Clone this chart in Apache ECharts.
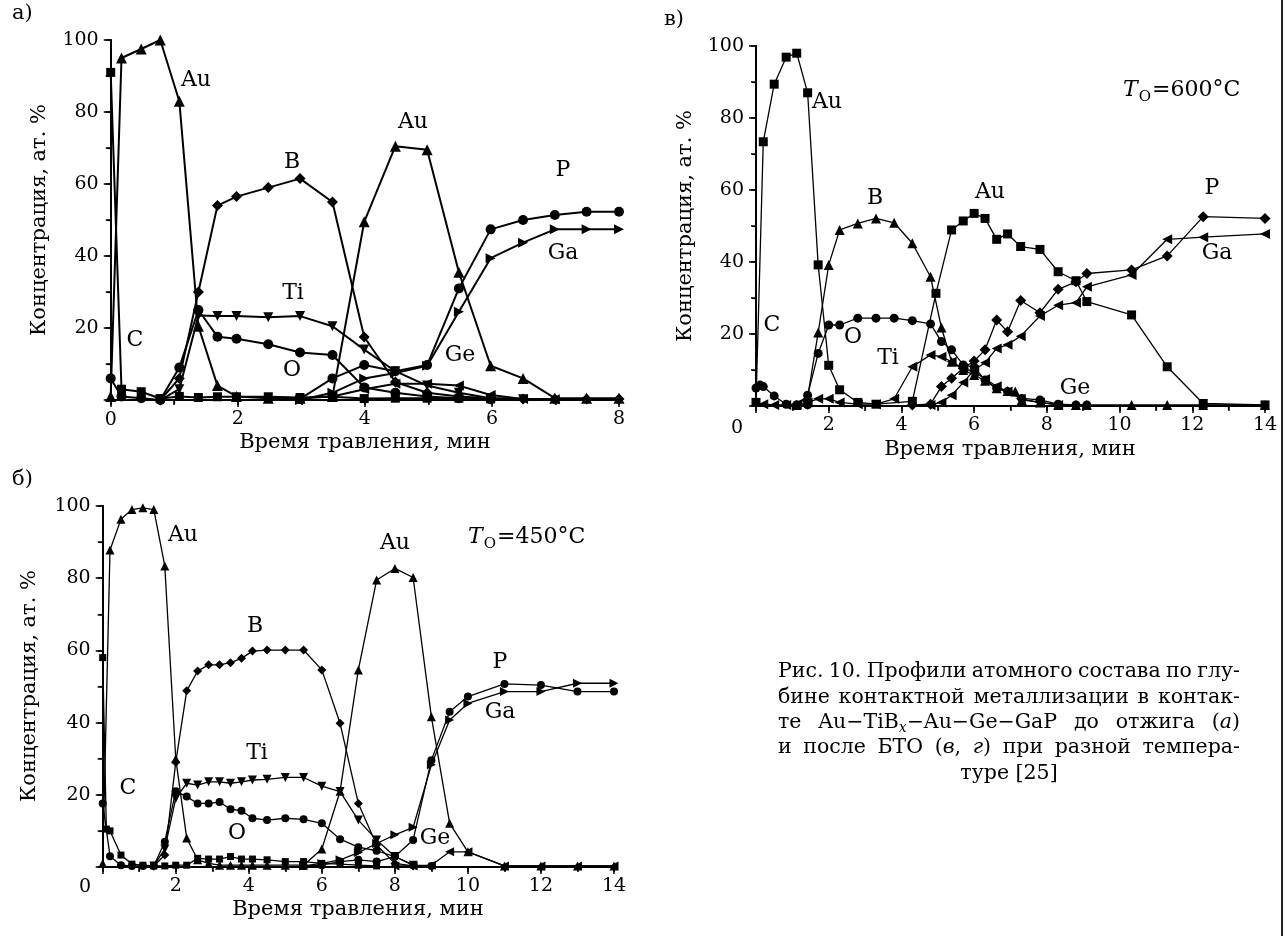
<!DOCTYPE html>
<html>
<head>
<meta charset="utf-8">
<script src="https://cdn.jsdelivr.net/npm/echarts@6.0.0/dist/echarts.min.js"></script>
<style>
html,body{margin:0;padding:0;background:#fff}
#chart{width:1287px;height:936px}
</style>
</head>
<body>
<div id="chart"></div>
<script>
// ---------- data: [time, concentration] ----------
// panel а) — before annealing
const aAu = [[0,1],[0.17,95],[0.48,97.5],[0.78,100],[1.08,83],[1.38,20.5],[1.68,4],[1.98,1],[2.48,0.5],[2.98,0.5],[3.49,1],[3.99,49.5],[4.48,70.5],[4.98,69.5],[5.48,35.5],[5.98,9.5],[6.49,6],[6.99,0.5],[7.49,0.5],[8,0.5]];
const aB  = [[0.78,0],[1.08,6],[1.38,30],[1.68,54],[1.98,56.5],[2.48,59],[2.98,61.5],[3.49,55],[3.99,17.5],[4.48,5],[4.98,2],[5.48,1],[5.98,0.5],[6.49,0.3],[6.99,0.3],[7.49,0.3],[8,0.3]];
const aTi = [[0.78,0],[1.08,3],[1.38,23.5],[1.68,23.3],[1.98,23.3],[2.48,23],[2.98,23.3],[3.49,20.5],[3.99,14],[4.48,8],[4.98,4],[5.48,2],[5.98,0.5],[6.49,0.2]];
const aO  = [[0,6],[0.17,1],[0.48,0.5],[0.78,0],[1.08,9],[1.38,25],[1.68,17.6],[1.98,17],[2.48,15.5],[2.98,13.2],[3.49,12.5],[3.99,3.5],[4.48,2],[4.98,1],[5.48,0.5],[5.98,0.2]];
const aC  = [[0,91],[0.17,3],[0.48,2.3],[0.78,0.4],[1.08,1],[1.38,0.7],[1.68,0.9],[1.98,0.9],[2.48,0.9],[2.98,0.7],[3.49,0.9],[3.99,0.4],[4.48,0.5],[4.98,0.5],[5.48,0.5],[5.98,0.3]];
const aP  = [[2.98,0.3],[3.49,6],[3.99,9.7],[4.48,8],[4.98,9.7],[5.48,31],[5.98,47.4],[6.49,50],[6.99,51.4],[7.49,52.3],[8,52.3]];
const aGa = [[2.98,0],[3.49,2],[3.99,6],[4.48,7.5],[4.98,9.5],[5.48,24.5],[5.98,39.4],[6.49,43.7],[6.99,47.4],[7.49,47.4],[8,47.4]];
const aGe = [[3.49,1],[3.99,3],[4.48,4.5],[4.98,4.5],[5.48,4],[5.98,1.4],[6.49,0.3],[6.99,0.2]];

// panel в) — T = 600 °C
const vAu = [[0,1],[0.2,73.4],[0.5,89.4],[0.83,96.9],[1.12,98],[1.42,87],[1.71,39.2],[2.0,11.3],[2.3,4.5],[2.8,1],[3.3,0.5],[4.3,1.3],[4.95,31.3],[5.38,48.9],[5.7,51.4],[6.0,53.5],[6.3,52.1],[6.62,46.3],[6.92,47.8],[7.28,44.3],[7.81,43.5],[8.31,37.3],[8.8,34.8],[9.1,29],[10.33,25.3],[11.31,10.9],[12.3,0.7],[14,0.3]];
const vB  = [[1.12,0.3],[1.42,2.5],[1.71,20.4],[2.0,39.2],[2.3,48.9],[2.8,50.7],[3.3,52.1],[3.8,50.9],[4.3,45.2],[4.8,35.9],[5.1,21.8],[5.38,12.3],[5.7,10],[6.0,8.6],[6.3,7],[6.62,4.9],[6.92,4.2],[7.13,4],[7.31,1.7],[7.81,1],[8.31,0.3],[8.8,0.3],[9.1,0.3],[10.33,0.3],[11.31,0.3],[12.3,0.3],[14,0.3]];
const vO  = [[1.12,0.3],[1.42,3],[1.71,14.6],[2.0,22.5],[2.3,22.5],[2.8,24.4],[3.3,24.4],[3.8,24.4],[4.3,23.7],[4.8,22.8],[5.1,17.9],[5.38,15.6],[5.7,11.4],[6.0,10.8],[6.3,7.2],[6.62,4.9],[6.92,4],[7.31,2.1],[7.81,1.7],[8.31,0.5],[8.8,0.3],[9.1,0.3]];
const vC  = [[0,5],[0.11,5.8],[0.2,5.4],[0.5,2.8],[0.83,0.5],[1.12,0.3],[1.42,0.3]];
const vTi = [[0.2,0.5],[0.5,0.3],[0.83,0.3],[1.12,0.5],[1.42,1],[1.71,2],[2.0,2],[2.3,1],[2.8,0.5],[3.3,0.5],[3.8,2],[4.3,10.9],[4.8,14.2],[5.1,13.7],[5.38,12.3],[5.7,10.5],[6.0,9.5],[6.3,7.5],[6.62,5.5],[6.92,4],[7.28,2],[7.81,1],[8.31,0.3]];
const vP  = [[4.3,0.3],[4.8,0.5],[5.1,5.4],[5.38,7.7],[5.7,10.5],[6.0,12.5],[6.3,15.6],[6.62,23.9],[6.92,20.6],[7.28,29.3],[7.81,25.9],[8.31,32.4],[8.8,34.5],[9.1,36.8],[10.33,37.8],[11.31,41.7],[12.3,52.6],[14,52.1]];
const vGa = [[4.8,0.3],[5.1,1],[5.38,3],[5.7,6.5],[6.0,10],[6.3,12],[6.62,16],[6.92,17],[7.28,19.4],[7.81,25],[8.31,28],[8.8,28.7],[9.1,33.1],[10.33,36.4],[11.31,46.3],[12.3,46.9],[14,47.8]];

// panel б) — T = 450 °C
const bAu = [[0,1],[0.2,87.8],[0.5,96.3],[0.8,99],[1.1,99.5],[1.4,99],[1.7,83.4],[2.0,30],[2.3,8],[2.6,2],[2.9,1],[3.2,0.5],[3.5,0.5],[3.8,0.5],[4.1,0.5],[4.5,0.5],[5.0,0.5],[5.5,0.5],[6.0,5],[6.5,21],[7.0,54.6],[7.5,79.5],[8.0,82.7],[8.5,80.2],[9.0,41.6],[9.5,12.1],[10.0,4.2],[11,0.3],[12,0.3],[13,0.3],[14,0.3]];
const bB  = [[1.4,0.3],[1.7,3.3],[2.0,29],[2.3,48.8],[2.6,54.3],[2.9,56],[3.2,56],[3.5,56.6],[3.8,57.8],[4.1,59.8],[4.5,60.1],[5.0,60.1],[5.5,60.1],[6.0,54.6],[6.5,39.8],[7.0,17.6],[7.5,6.1],[8.0,1],[8.5,0.3]];
const bTi = [[1.4,0.3],[1.7,5],[2.0,19],[2.3,23.2],[2.6,22.7],[2.9,23.6],[3.2,23.6],[3.5,23.2],[3.8,23.6],[4.1,24.1],[4.5,24.3],[5.0,24.8],[5.5,24.8],[6.0,22.4],[6.5,20.9],[7.0,13],[7.5,7.5],[8.0,2.9],[8.5,0.5]];
const bO  = [[0,17.6],[0.2,3],[0.5,0.5],[0.8,0.3],[1.1,0.3],[1.4,0.3],[1.7,7],[2.0,21],[2.3,19.5],[2.6,17.6],[2.9,17.6],[3.2,18],[3.5,16],[3.8,15.6],[4.1,13.5],[4.5,13],[5.0,13.5],[5.5,13.2],[6.0,12.1],[6.5,7.7],[7.0,5.5],[7.5,4.5],[8.0,2.9],[8.5,0.5],[9.0,0.3]];
const bC  = [[0,58],[0.1,10.5],[0.2,10],[0.5,3.3],[0.8,0.8],[1.1,0.5],[1.4,0.3],[1.7,0.3],[2.0,0.5],[2.3,0.5],[2.6,2.4],[2.9,2.2],[3.2,2.2],[3.5,2.9],[3.8,2.2],[4.1,2.2],[4.5,2],[5.0,1.5],[5.5,1.5],[6.0,1],[6.5,0.8],[7.0,0.5],[7.5,0.3]];
const bP  = [[5.5,0.3],[6.0,0.5],[6.5,1.5],[7.0,2],[7.5,1.5],[8.0,2.9],[8.5,7.5],[9.0,29.6],[9.5,43],[10.0,47.2],[11,50.7],[12,50.4],[13,48.6],[14,48.6]];
const bGa = [[5.5,0.3],[6.0,1],[6.5,2],[7.0,4],[7.5,6.5],[8.0,8.9],[8.5,11],[9.0,28.3],[9.5,40.7],[10.0,45.3],[11,48.6],[12,48.6],[13,50.9],[14,50.9]];
const bGe = [[8.0,0.3],[8.5,0.3],[9.0,0.5],[9.5,4.2],[10.0,4.2],[11,0.3],[12,0.3],[13,0.3],[14,0.3]];

// axis ranges and tick labels
const xMaxA = 8, xMaxV = 14, xMaxB = 14;
const yTicks = [0, 20, 40, 60, 80, 100];

// text
const xTitle = 'Время травления, мин';
const yTitle = 'Концентрация, ат. %';
const captionLines = [
  'Рис. 10. Профили атомного состава по глу-',
  'бине контактной металлизации в контак-',
  'те Au−TiB_{x}−Au−Ge−GaP до отжига (*а*)',
  'и после БТО (*в*, *г*)  при разной темпера-',
  'туре [25]'
];

// ---------- layout ----------
const SERIF = "'DejaVu Serif', 'Liberation Serif', serif";
const TICK = 19, TITLE = 21, LBL = 22;
const grids = [
  { left: 110.7, top: 40, width: 508.3, height: 360 },   // а
  { left: 756,   top: 46, width: 509,   height: 360 },   // в
  { left: 102.7, top: 506, width: 511.3, height: 361 }   // б
];
const xMax = [xMaxA, xMaxV, xMaxB];

const chart = echarts.init(document.getElementById('chart'), null, { renderer: 'canvas', width: 1287, height: 936 });

const xAxes = [], yAxes = [];
grids.forEach((g, i) => {
  xAxes.push({
    type: 'value', gridIndex: i, position: 'bottom', min: 0, max: xMax[i], interval: 2,
    axisLine: { lineStyle: { color: '#000', width: 1.8 } },
    axisTick: { inside: false, length: 7, lineStyle: { color: '#000', width: 1.5 } },
    minorTick: { show: true, splitNumber: 2, length: 4, lineStyle: { color: '#000', width: 1.2 } },
    splitLine: { show: false },
    axisLabel: { margin: 10, color: '#000', fontFamily: SERIF, fontSize: TICK, formatter: v => (v === 0 ? '' : String(v)) }
  });
  xAxes.push({
    type: 'value', gridIndex: i, position: 'top', min: 0, max: xMax[i], interval: 1,
    axisLine: { lineStyle: { color: '#000', width: 1.8 } },
    axisTick: { inside: true, length: 5, lineStyle: { color: '#000', width: 1.5 } },
    splitLine: { show: false }, axisLabel: { show: false }
  });
  yAxes.push({
    type: 'value', gridIndex: i, position: 'left', min: yTicks[0], max: yTicks[yTicks.length - 1], interval: 20,
    axisLine: { lineStyle: { color: '#000', width: 1.8 } },
    axisTick: { inside: false, length: 7, lineStyle: { color: '#000', width: 1.5 } },
    minorTick: { show: true, splitNumber: 2, length: 4, lineStyle: { color: '#000', width: 1.2 } },
    splitLine: { show: false },
    axisLabel: { margin: 12, color: '#000', fontFamily: SERIF, fontSize: TICK, formatter: v => (v === 0 ? '' : String(v)) }
  });
  yAxes.push({
    type: 'value', gridIndex: i, position: 'right', min: 0, max: 100, interval: 10,
    axisLine: { lineStyle: { color: '#000', width: 1.8 } },
    axisTick: { inside: true, length: 5, lineStyle: { color: '#000', width: 1.5 } },
    splitLine: { show: false }, axisLabel: { show: false }
  });
});

// marker shapes
const UP = ['triangle', 0], DOWN = ['triangle', 180], RIGHT = ['triangle', -90], LEFT = ['triangle', 90];
const DIA = ['diamond', 0], SQ = ['rect', 0], CIR = ['circle', 0];

function line(name, data, shape, panel, size, width) {
  return {
    name, type: 'line', data, xAxisIndex: panel * 2, yAxisIndex: panel * 2,
    symbol: shape[0], symbolRotate: shape[1], symbolSize: size, showAllSymbol: true,
    lineStyle: { color: '#000', width }, itemStyle: { color: '#000' },
    clip: false, silent: true, z: 3
  };
}
const series = [
  line('Au', aAu, UP, 0, 11, 2), line('B', aB, DIA, 0, 11, 2), line('Ti', aTi, DOWN, 0, 10, 2),
  line('O', aO, CIR, 0, 10, 2), line('C', aC, SQ, 0, 9, 2), line('P', aP, CIR, 0, 10, 2),
  line('Ga', aGa, RIGHT, 0, 10, 2), line('Ge', aGe, LEFT, 0, 10, 2),

  line('Au', vAu, SQ, 1, 9, 1.3), line('B', vB, UP, 1, 10, 1.3), line('O', vO, CIR, 1, 9, 1.3),
  line('C', vC, CIR, 1, 9, 1.3), line('Ti', vTi, LEFT, 1, 10, 1.3), line('P', vP, DIA, 1, 11, 1.3),
  line('Ga', vGa, LEFT, 1, 10, 1.3),

  line('Au', bAu, UP, 2, 9, 1.3), line('B', bB, DIA, 2, 9, 1.3), line('Ti', bTi, DOWN, 2, 9, 1.3),
  line('O', bO, CIR, 2, 8, 1.3), line('C', bC, SQ, 2, 7, 1.3), line('P', bP, CIR, 2, 8, 1.3),
  line('Ga', bGa, RIGHT, 2, 9, 1.3), line('Ge', bGe, LEFT, 2, 9, 1.3)
];

// ---------- text elements ----------
const graphic = [];
function txt(x, y, text, size, opts) {
  opts = opts || {};
  const font = (opts.italic ? 'italic ' : '') + size + 'px ' + SERIF;
  graphic.push({
    type: 'text', x, y, rotation: opts.rotation || 0, silent: true, z: 10,
    style: {
      text, font, fill: '#000',
      align: opts.align || 'center', verticalAlign: opts.valign || 'middle',
      textAlign: opts.align || 'center', textVerticalAlign: opts.valign || 'middle'
    }
  });
}

// panel letters
txt(12, 14, 'а)', TITLE, { align: 'left' });
txt(664, 20, 'в)', TITLE, { align: 'left' });
txt(12, 480, 'б)', TITLE, { align: 'left' });

// origin zeros
txt(110.7, 420, '0', TICK);
txt(737, 428, '0', TICK);
txt(85, 887, '0', TICK);

// axis titles
txt(365, 443, xTitle, TITLE);
txt(1010, 450, xTitle, TITLE);
txt(358, 910, xTitle, TITLE);
txt(40, 220, yTitle, TITLE, { rotation: Math.PI / 2 });
txt(686, 226, yTitle, TITLE, { rotation: Math.PI / 2 });
txt(30, 686, yTitle, TITLE, { rotation: Math.PI / 2 });

// element labels
[[196, 80, 'Au'], [292, 162, 'B'], [413, 122, 'Au'], [563, 170, 'P'], [563, 253, 'Ga'],
 [293, 293, 'Ti'], [292, 370, 'O'], [135, 340, 'C'], [460, 355, 'Ge'],
 [827, 102, 'Au'], [875, 198, 'B'], [990, 192, 'Au'], [772, 325, 'C'], [853, 337, 'O'],
 [888, 358, 'Ti'], [1212, 188, 'P'], [1217, 253, 'Ga'], [1075, 388, 'Ge'],
 [183, 535, 'Au'], [255, 626, 'B'], [257, 753, 'Ti'], [128, 788, 'C'], [237, 833, 'O'],
 [395, 543, 'Au'], [500, 662, 'P'], [500, 712, 'Ga'], [435, 838, 'Ge']
].forEach(l => txt(l[0], l[1], l[2], LBL));

// text measuring
const mctx = document.createElement('canvas').getContext('2d');
function tw(text, size, italic) {
  mctx.font = (italic ? 'italic ' : '') + size + 'px ' + SERIF;
  return mctx.measureText(text).width;
}

// annealing temperature: italic T with subscript O
function tempLabel(x, y, rest) {
  txt(x, y, 'T', LBL, { align: 'left', italic: true });
  const x1 = x + tw('T', LBL, true) + 1;
  txt(x1, y + 7, 'O', 15, { align: 'left' });
  txt(x1 + tw('O', 15, false) + 1, y, rest, LBL, { align: 'left' });
}
tempLabel(1123, 90, '=600°C');
tempLabel(468, 537, '=450°C');

// figure caption, justified between capLeft and capRight
function parseWord(w) {
  const segs = [];
  const re = /_\{([^}]*)\}|\*([^*]*)\*|([^_*]+)/g;
  let m;
  while ((m = re.exec(w)) !== null) {
    if (m[1] !== undefined) segs.push({ t: m[1], sub: true, it: true });
    else if (m[2] !== undefined) segs.push({ t: m[2], it: true });
    else segs.push({ t: m[3] });
  }
  return segs;
}
const capLeft = 778, capRight = 1240, capTop = 672, capStep = 25.3;
const capWords = captionLines.map(ln => ln.split(/\s+/).map(parseWord));
function segW(s, size) { return tw(s.t, s.sub ? Math.round(size * 0.7) : size, !!s.it); }
function wordW(ws, size) { return ws.reduce((a, s) => a + segW(s, size), 0); }
// largest size whose justified lines still leave at least a thin space between words
let CAP = 22;
while (CAP > 14 && capWords.slice(0, -1).some(words =>
  words.reduce((a, ws) => a + wordW(ws, CAP), 0) + (words.length - 1) * CAP * 0.22 > capRight - capLeft)) {
  CAP -= 0.25;
}
capWords.forEach((words, li) => {
  const widths = words.map(ws => wordW(ws, CAP));
  const total = widths.reduce((a, b) => a + b, 0);
  const y = capTop + li * capStep;
  let x, gap;
  if (li === capWords.length - 1) {
    gap = tw(' ', CAP, false);
    x = (capLeft + capRight) / 2 - (total + gap * (words.length - 1)) / 2;
  } else {
    gap = (capRight - capLeft - total) / (words.length - 1);
    x = capLeft;
  }
  words.forEach((ws, wi) => {
    let cx = x;
    ws.forEach(s => {
      const sz = s.sub ? Math.round(CAP * 0.7) : CAP;
      txt(cx, s.sub ? y + 6 : y, s.t, sz, { align: 'left', italic: !!s.it });
      cx += segW(s, CAP);
    });
    x += widths[wi] + gap;
  });
});

// page edge rule on the right
graphic.push({ type: 'line', silent: true, shape: { x1: 1282, y1: 0, x2: 1282, y2: 936 }, style: { stroke: '#222', lineWidth: 2 } });

chart.setOption({
  backgroundColor: '#fff',
  animation: false,
  grid: grids.map(g => Object.assign({ containLabel: false }, g)),
  xAxis: xAxes,
  yAxis: yAxes,
  series,
  graphic
});
</script>
</body>
</html>
